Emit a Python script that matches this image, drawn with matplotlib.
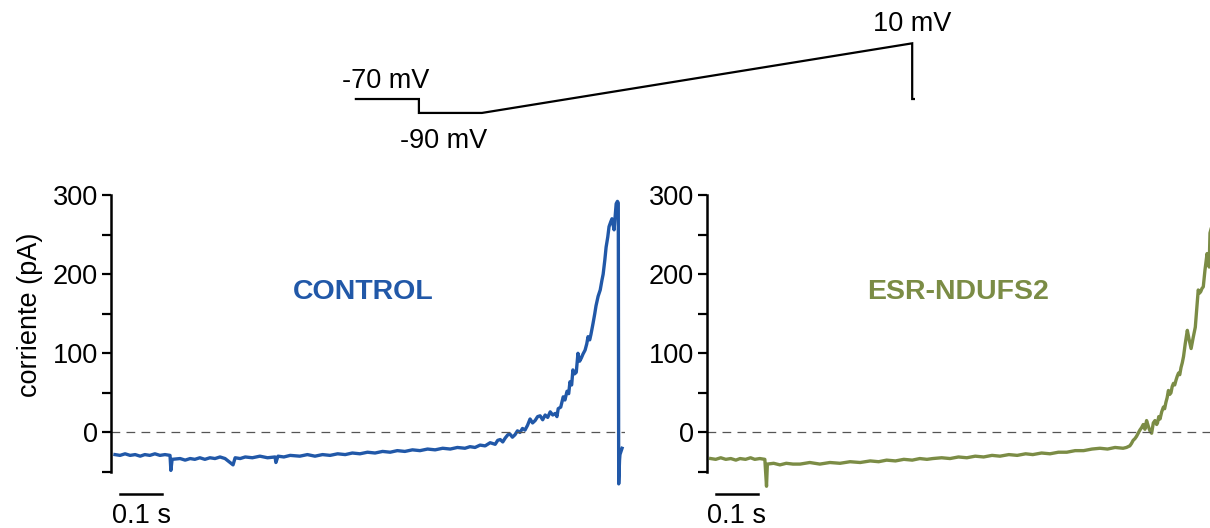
import numpy as np
import matplotlib
matplotlib.use("Agg")
import matplotlib.pyplot as plt

plt.rcParams['font.family'] = ['Liberation Sans', 'DejaVu Sans']

# voltage protocol (time s, voltage mV)
prot_t = [0.0, 0.15, 0.15, 0.30, 1.324, 1.324, 1.328]
prot_v = [-70, -70, -90, -90, 10, -70, -70]

# CONTROL trace (time s, current pA)
ctrl_t = [0.000, 0.012, 0.024, 0.036, 0.048, 0.060, 0.071, 0.083, 0.095, 0.107,
          0.119, 0.131, 0.133, 0.136, 0.155, 0.167, 0.179, 0.190, 0.202, 0.214,
          0.226, 0.238, 0.250, 0.262, 0.281, 0.286, 0.298, 0.310, 0.327, 0.345,
          0.363, 0.381, 0.383, 0.388, 0.402, 0.417, 0.440, 0.458, 0.476, 0.494,
          0.512, 0.530, 0.548, 0.565, 0.583, 0.601, 0.619, 0.637, 0.655, 0.672,
          0.690, 0.708, 0.726, 0.744, 0.762, 0.780, 0.798, 0.815, 0.833, 0.845,
          0.857, 0.869, 0.881, 0.893, 0.905, 0.911, 0.917, 0.923, 0.929, 0.935,
          0.940, 0.946, 0.952, 0.958, 0.964, 0.970, 0.976, 0.982, 0.988, 0.994,
          1.000, 1.006, 1.012, 1.018, 1.024, 1.030, 1.036, 1.042, 1.048, 1.052,
          1.055, 1.061, 1.067, 1.071, 1.076, 1.080, 1.083, 1.087, 1.090, 1.094,
          1.098, 1.102, 1.106, 1.110, 1.114, 1.119, 1.123, 1.126, 1.130, 1.133,
          1.138, 1.142, 1.145, 1.150, 1.155, 1.159, 1.162, 1.166, 1.169, 1.173,
          1.176, 1.180, 1.183, 1.186, 1.188, 1.191, 1.193, 1.196,
          1.198, 1.199, 1.201, 1.202, 1.207]
ctrl_i = [-28, -29, -27, -29, -28, -30, -28, -29, -27, -29,
          -28, -29, -48, -34, -33, -35, -33, -34, -32, -34,
          -32, -33, -31, -33, -41, -32, -33, -31, -32, -30,
          -32, -31, -38, -30, -31, -29, -30, -28, -30, -28,
          -29, -27, -28, -26, -27, -25, -26, -24, -25, -23,
          -24, -22, -23, -21, -22, -20, -21, -19, -20, -18,
          -19, -16, -17, -13, -15, -10, -9, -12, -7, -3,
          -2, -6, -3, 2, 0, 5, 3, 9, 17, 12,
          15, 20, 21, 16, 22, 19, 26, 22, 24, 20,
          30, 32, 45, 41, 52, 49, 64, 60, 79, 74,
          76, 100, 90, 94, 99, 104, 112, 121, 117, 124,
          138, 150, 160, 172, 180, 192, 200, 218, 234, 247,
          260, 266, 270, 262, 256, 275, 289, 292,
          290, -65, -35, -28, -20]

# ESR-NDUFS2 trace (time s, current pA)
esr_t = [0.000, 0.012, 0.024, 0.036, 0.048, 0.060, 0.070, 0.083, 0.095, 0.105,
         0.117, 0.129, 0.133, 0.135, 0.150, 0.165, 0.180, 0.196, 0.213, 0.236,
         0.260, 0.284, 0.308, 0.332, 0.356, 0.380, 0.400, 0.419, 0.440, 0.460,
         0.480, 0.498, 0.515, 0.529, 0.550, 0.570, 0.590, 0.610, 0.630, 0.650,
         0.670, 0.689, 0.710, 0.730, 0.750, 0.767, 0.788, 0.808, 0.828, 0.848,
         0.868, 0.888, 0.908, 0.927, 0.945, 0.963, 0.982, 0.990, 0.998, 1.002,
         1.006, 1.010, 1.014, 1.018, 1.022, 1.026, 1.030, 1.034, 1.038, 1.042,
         1.046, 1.050, 1.054, 1.058, 1.062, 1.064, 1.067, 1.070, 1.074, 1.078,
         1.081, 1.084, 1.087, 1.090, 1.093, 1.096, 1.099, 1.102, 1.105, 1.108,
         1.111, 1.114, 1.117, 1.120, 1.123, 1.126, 1.130, 1.135, 1.139, 1.144,
         1.149, 1.154, 1.158, 1.161, 1.164, 1.167, 1.170, 1.173, 1.177, 1.182,
         1.185, 1.187, 1.189, 1.192]
esr_i = [-33, -34, -32, -34, -33, -35, -33, -34, -32, -34,
         -33, -34, -68, -40, -39, -41, -39, -40, -40, -38,
         -40, -38, -39, -37, -38, -36, -37, -35, -36, -34,
         -35, -33, -34, -33, -32, -33, -31, -32, -30, -31,
         -29, -30, -28, -29, -27, -28, -26, -27, -25, -25,
         -23, -23, -21, -20, -21, -19, -20, -19, -17, -14,
         -10, -8, -5, -1, 3, 6, 10, 4, 15, 8,
         2, -1, 12, 15, 10, 12, 20, 17, 26, 32,
         30, 38, 44, 53, 48, 50, 58, 62, 60, 66,
         71, 75, 73, 82, 88, 96, 112, 129, 118, 106,
         120, 133, 160, 180, 176, 178, 182, 184, 205, 226,
         214, 209, 252, 258]

blue = '#2158a8'
green = '#7b8c45'
fs = 19.5

W, H = 1210, 528
fig = plt.figure(figsize=(W / 100, H / 100), dpi=100)


def px_axes(x0, x1, ytop, ybot):
    return fig.add_axes([x0 / W, 1 - ybot / H, (x1 - x0) / W, (ybot - ytop) / H])


# protocol
axp = px_axes(300, 1000, 20, 160)
axp.plot(prot_t, prot_v, color='black', lw=1.6, solid_joinstyle='miter')
axp.set_xlim(-0.133, 1.533)
axp.set_ylim(-157.6, 43.5)
axp.axis('off')
axp.text(0.071, -44, '-70 mV', ha='center', va='center', fontsize=fs)
axp.text(0.21, -131, '-90 mV', ha='center', va='center', fontsize=fs)
axp.text(1.324, 38, '10 mV', ha='center', va='center', fontsize=fs)

panels = [
    (111, 625, -0.0095, 1.214, ctrl_t, ctrl_i, blue, 'CONTROL'),
    (707.3, 1210, -0.008, 1.189, esr_t, esr_i, green, 'ESR-NDUFS2'),
]
for x0, x1, tmin, tmax, t, cur, col, name in panels:
    ax = px_axes(x0, x1, 187.1, 499.7)
    ax.plot(t, cur, color=col, lw=2.4)
    ax.axhline(0, color='#555555', lw=0.9, dashes=(7, 5))
    ax.set_xlim(tmin, tmax)
    ax.set_ylim(-85, 310)
    for s in ['top', 'right', 'bottom']:
        ax.spines[s].set_visible(False)
    ax.spines['left'].set_bounds(-50, 300)
    ax.spines['left'].set_linewidth(1.8)
    ax.set_xticks([])
    ax.set_yticks([0, 100, 200, 300])
    ax.set_yticks([-50, 50, 150, 250], minor=True)
    ax.tick_params(axis='y', which='both', length=6.5, width=1.6, direction='out',
                   labelsize=fs, pad=3)
    ax.patch.set_alpha(0)
    # 0.1 s scale bar
    ax.plot([0.012, 0.112], [-78, -78], color='black', lw=1.8, clip_on=False)
    ax.text(0.062, -105, '0.1 s', ha='center', va='center', fontsize=fs)
    ax.text(0.59, 177, name, ha='center', va='center', fontsize=20.5,
            fontweight='bold', color=col)

fig.text(30 / W, 1 - 315 / H, 'corriente (pA)', rotation=90, ha='center',
         va='center', fontsize=fs)

fig.savefig('out.png', dpi=100)
